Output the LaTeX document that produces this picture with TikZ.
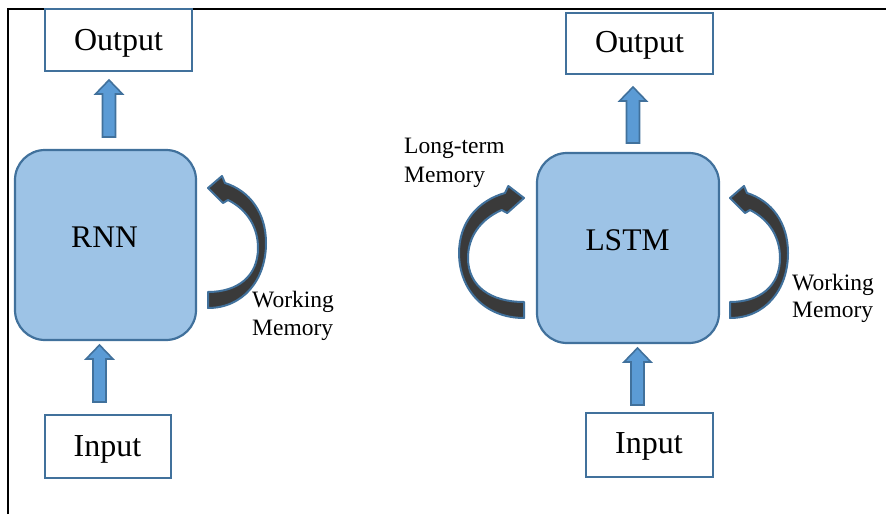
\documentclass[tikz,border=0pt]{standalone}
\usepackage{fontspec}
\setmainfont{Liberation Serif}
\usetikzlibrary{calc}
\definecolor{boxfill}{HTML}{9DC3E6}
\definecolor{boxline}{HTML}{41719C}
\definecolor{arrfill}{HTML}{5B9BD5}
\definecolor{curvefill}{HTML}{3A3A3A}
\tikzset{
  iobox/.style={draw=boxline, line width=2.2pt, fill=white, inner sep=0pt},
  cellbox/.style={draw=boxline, line width=2.2pt, fill=boxfill, rounded corners=30pt, inner sep=0pt},
  bigtxt/.style={font=\fontsize{32}{38}\selectfont, inner sep=0pt, anchor=base},
  celltxt/.style={font=\fontsize{31.5}{38}\selectfont, inner sep=0pt, anchor=base},
  smalltxt/.style={font=\fontsize{23.5}{28}\selectfont, inner sep=0pt, anchor=base west},
  blockarr/.style={draw=boxline, line width=1.6pt, fill=arrfill, line join=miter},
  curvearr/.style={draw=boxline, line width=2pt, fill=curvefill, line join=round},
  frameline/.style={draw=black, line width=2pt}
}
\newcommand\blockarrow[2]{%
  \draw[blockarr] let \p1=(#1), \p2=(#2) in
   (\x1-6.5pt,\y1) -- (\x1-6.5pt,\y2-14pt) -- (\x1-13.5pt,\y2-14pt) -- (\x2,\y2)
   -- (\x1+13.5pt,\y2-14pt) -- (\x1+6.5pt,\y2-14pt) -- (\x1+6.5pt,\y1) -- cycle;}
\newcommand\loopshape{%
  (0,120) .. controls (35,120) and (58,92) .. (58,55)
  .. controls (58,25) and (42,3) .. (17,-5) -- (14,-12) -- (0,0) -- (15,15) -- (20,12)
  .. controls (40,22) and (50,40) .. (50,60)
  .. controls (50,88) and (30,104) .. (0,104) -- cycle}
\begin{document}
\begin{tikzpicture}[x=1pt,y=-1pt]
\useasboundingbox (0,0) rectangle (886,514);
% frame
\draw[frameline] (8,514) -- (8,9) -- (886,9);

% ---------- RNN ----------
\node[iobox, minimum width=147pt, minimum height=62pt] (rnnout) at (118.5,40) {};
\node[bigtxt] (rnnouttxt) at (118.5,50) {Output};
\node[cellbox, minimum width=181pt, minimum height=190pt] (rnn) at (105.5,245) {};
\node[celltxt] (rnntxt) at (104.5,247) {RNN};
\node[iobox, minimum width=126pt, minimum height=63pt] (rnnin) at (108,446.5) {};
\node[bigtxt] (rnnintxt) at (107.5,456) {Input};

\coordinate (rnnOutTail) at (109,137);
\coordinate (rnnOutTip) at (109,80);
\coordinate (rnnInTail) at (99.5,402);
\coordinate (rnnInTip) at (99.5,345);
\blockarrow{rnnOutTail}{rnnOutTip}
\blockarrow{rnnInTail}{rnnInTip}

\begin{scope}[shift={(208,188)}]
  \draw[curvearr] \loopshape;
\end{scope}
\node[smalltxt] (rnnwm1) at (252,307) {Working};
\node[smalltxt] (rnnwm2) at (252,335) {Memory};

% ---------- LSTM ----------
\node[iobox, minimum width=147pt, minimum height=61pt] (lstmout) at (639.5,43.5) {};
\node[bigtxt] (lstmouttxt) at (639.5,52) {Output};
\node[cellbox, minimum width=182pt, minimum height=190pt] (lstm) at (628,248) {};
\node[celltxt] (lstmtxt) at (627.5,250) {LSTM};
\node[iobox, minimum width=127pt, minimum height=64pt] (lstmin) at (649.5,445) {};
\node[bigtxt] (lstmintxt) at (649,453) {Input};

\coordinate (lstmOutTail) at (633,143);
\coordinate (lstmOutTip) at (633,87);
\coordinate (lstmInTail) at (637.5,405);
\coordinate (lstmInTip) at (637.5,348);
\blockarrow{lstmOutTail}{lstmOutTip}
\blockarrow{lstmInTail}{lstmInTip}

\begin{scope}[shift={(730,198)}]
  \draw[curvearr] \loopshape;
\end{scope}
\begin{scope}[shift={(524,198)}, xscale=-1.12]
  \draw[curvearr] \loopshape;
\end{scope}
\node[smalltxt] (ltm1) at (404,153) {Long-term};
\node[smalltxt] (ltm2) at (404,182) {Memory};
\node[smalltxt] (lstmwm1) at (792,290) {Working};
\node[smalltxt] (lstmwm2) at (792,317) {Memory};
\end{tikzpicture}
\end{document}
